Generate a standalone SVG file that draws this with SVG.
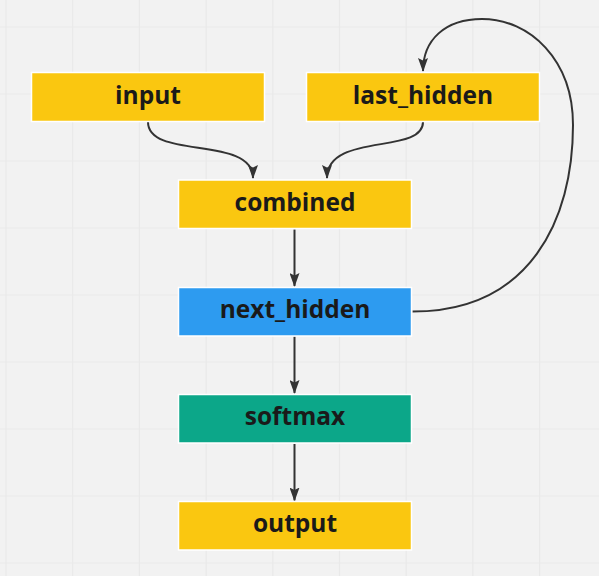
<svg xmlns="http://www.w3.org/2000/svg" width="599" height="576" viewBox="0 0 599 576">
<style>
.grid line{stroke:#e9e9e9;stroke-width:1.2}
.node rect{stroke:#ffffff;stroke-width:1.5}
.node text{font-family:"Open Sans",sans-serif;font-weight:bold;font-size:24.5px;fill:#1a1a1a;text-anchor:middle}
.edge{fill:none;stroke:#333333;stroke-width:2;marker-end:url(#arr)}
</style>
<defs>
<marker id="arr" markerUnits="userSpaceOnUse" markerWidth="14" markerHeight="10" viewBox="0 0 14 10" refX="13" refY="5" orient="auto">
<path d="M0,0 L14,5 L0,10 L2.5,5 z" fill="#333333"/>
</marker>
</defs>
<rect width="599" height="576" fill="#f2f2f2"/>
<g class="grid">
<line x1="6" y1="0" x2="6" y2="576"/>
<line x1="72.7" y1="0" x2="72.7" y2="576"/>
<line x1="139.4" y1="0" x2="139.4" y2="576"/>
<line x1="206.1" y1="0" x2="206.1" y2="576"/>
<line x1="272.8" y1="0" x2="272.8" y2="576"/>
<line x1="339.5" y1="0" x2="339.5" y2="576"/>
<line x1="406.2" y1="0" x2="406.2" y2="576"/>
<line x1="472.9" y1="0" x2="472.9" y2="576"/>
<line x1="539.6" y1="0" x2="539.6" y2="576"/>
<line x1="0" y1="27" x2="599" y2="27"/>
<line x1="0" y1="94" x2="599" y2="94"/>
<line x1="0" y1="161" x2="599" y2="161"/>
<line x1="0" y1="228" x2="599" y2="228"/>
<line x1="0" y1="295" x2="599" y2="295"/>
<line x1="0" y1="362" x2="599" y2="362"/>
<line x1="0" y1="429" x2="599" y2="429"/>
<line x1="0" y1="496" x2="599" y2="496"/>
<line x1="0" y1="563" x2="599" y2="563"/>
</g>
<g id="connectors">
<path class="edge" d="M148,122 C148,160 253,135 253,178"/>
<path class="edge" d="M423,122 C423,155 327,132 327,178"/>
<path class="edge" d="M294.5,229.5 L294.5,286"/>
<path class="edge" d="M294.5,336.5 L294.5,393"/>
<path class="edge" d="M294.5,444 L294.5,500.5"/>
<path class="edge" d="M412.5,311.5 C530,311.5 573,220 573,125 C573,60 530,19 482,19 C445,19 423,40 423,71"/>
</g>
<g id="node-input" class="node">
<rect x="31.5" y="72.5" width="233" height="49" fill="#fac710"/>
<text x="148" y="104">input</text>
</g>
<g id="node-last_hidden" class="node">
<rect x="306.5" y="72.5" width="233" height="49" fill="#fac710"/>
<text x="423" y="104">last_hidden</text>
</g>
<g id="node-combined" class="node">
<rect x="178.5" y="180" width="233" height="48.5" fill="#fac710"/>
<text x="295" y="211">combined</text>
</g>
<g id="node-next_hidden" class="node">
<rect x="178.5" y="287.5" width="233" height="48.5" fill="#2d9bf0"/>
<text x="295" y="318">next_hidden</text>
</g>
<g id="node-softmax" class="node">
<rect x="178.5" y="394.5" width="233" height="48.5" fill="#0ca789"/>
<text x="295" y="425">softmax</text>
</g>
<g id="node-output" class="node">
<rect x="178.5" y="501.5" width="233" height="48.5" fill="#fac710"/>
<text x="295" y="532">output</text>
</g>
</svg>
